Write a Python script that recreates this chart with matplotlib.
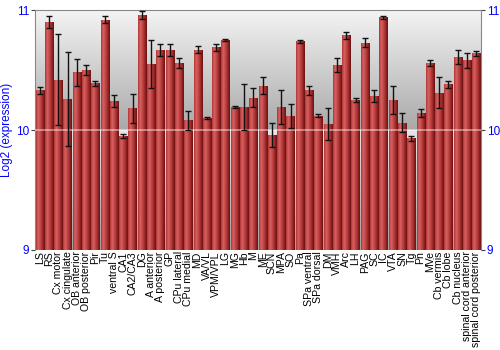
import matplotlib
matplotlib.use("Agg")
import matplotlib.pyplot as plt
import numpy as np
from matplotlib.colors import LinearSegmentedColormap

regions = [
    "LS", "RS", "Cx motor", "Cx cingulate", "OB anterior", "OB posterior", "Pir", "Tu",
    "ventral S", "CA1", "CA2/CA3", "DG", "A anterior", "A posterior", "GP", "CPu lateral",
    "CPu medial", "MD", "VA/VL", "VPM/VPL", "LG", "MG", "Hb", "M", "ME", "SCN", "MPA",
    "SO", "Pa", "SPa ventral", "SPa dorsal", "DM", "VMH", "Arc", "LH", "PAG", "SC", "IC",
    "VTA", "SN", "Tg", "Pn", "MVe", "Cb vermis", "Cb lobe", "Cb nucleus",
    "spinal cord anterior", "spinal cord posterior",
]
log2_expr = [
    10.33, 10.90, 10.42, 10.26, 10.48, 10.50, 10.39, 10.92,
    10.24, 9.95, 10.18, 10.96, 10.55, 10.67, 10.67, 10.56,
    10.08, 10.67, 10.10, 10.69, 10.75, 10.19, 10.19, 10.27, 10.37, 9.96, 10.19,
    10.12, 10.74, 10.33, 10.12, 10.05, 10.54, 10.79, 10.25, 10.73, 10.28, 10.94,
    10.25, 10.06, 9.93, 10.14, 10.56, 10.31, 10.38, 10.61,
    10.58, 10.64,
]
err = [
    0.03, 0.05, 0.38, 0.39, 0.11, 0.04, 0.02, 0.03,
    0.05, 0.02, 0.12, 0.03, 0.20, 0.05, 0.05, 0.04,
    0.08, 0.03, 0.005, 0.03, 0.01, 0.01, 0.19, 0.08, 0.07, 0.10, 0.14,
    0.10, 0.015, 0.04, 0.01, 0.13, 0.06, 0.03, 0.015, 0.035, 0.05, 0.012,
    0.12, 0.08, 0.02, 0.035, 0.025, 0.13, 0.03, 0.06,
    0.065, 0.02,
]
yticks = [9, 10, 11]

plt.rcParams["font.family"] = ["Liberation Sans", "DejaVu Sans"]

fig = plt.figure(figsize=(5, 3.5), dpi=100)
ax = fig.add_axes([0.07, 0.286, 0.892, 0.685])

x = np.arange(len(regions))
ax.set_xlim(-0.5, len(regions) - 0.5)
ax.set_ylim(9, 11)

# background: two vertical grey gradients (11->10 and 10->9)
bg = LinearSegmentedColormap.from_list("bg", ["#f4f4f4", "#a9a9a9"])
grad = np.linspace(0, 1, 256).reshape(-1, 1)
ax.imshow(grad, cmap=bg, aspect="auto", extent=(-0.5, len(regions) - 0.5, 10, 11),
          origin="upper", zorder=0)
bg2 = LinearSegmentedColormap.from_list("bg2", ["#e6e6e6", "#a0a0a0"])
ax.imshow(grad, cmap=bg2, aspect="auto", extent=(-0.5, len(regions) - 0.5, 9, 10),
          origin="upper", zorder=0)

# bars with horizontal cylinder-like shading
bars = ax.bar(x, np.array(log2_expr) - 9, bottom=9, width=0.88,
              color="#b83838", edgecolor="none", zorder=1)
bar_cmap = LinearSegmentedColormap.from_list(
    "bar", ["#b03434", "#d86262", "#c24646", "#9c2a2a", "#6a1010"])
hgrad = np.linspace(0, 1, 64).reshape(1, -1)
for b in bars:
    bx, by = b.get_x(), b.get_y()
    im = ax.imshow(hgrad, cmap=bar_cmap, aspect="auto",
                   extent=(bx, bx + b.get_width(), by, by + b.get_height()), zorder=2)
    im.set_clip_path(b)

ax.axhline(10, color="white", lw=1.2, alpha=0.5, zorder=3)

ax.errorbar(x, log2_expr, yerr=err, fmt="none", ecolor="#111111", elinewidth=1.0,
            capsize=2.2, capthick=1.0, zorder=4)

ax.set_xticks(x)
ax.set_xticklabels(regions, rotation=90, fontsize=7.6, linespacing=0.9)
ax.tick_params(axis="x", length=0, pad=1)

ax.set_yticks(yticks)
ax.set_yticklabels([str(t) for t in yticks], color="blue", fontsize=8.5)
ax.tick_params(axis="y", length=3, color="#444444", pad=1,
               labelleft=True, labelright=True, left=True, right=True)
ax.set_ylabel("Log2 (expression)", color="blue", fontsize=8.5, labelpad=2)

for s in ax.spines.values():
    s.set_color("#888888")
    s.set_linewidth(0.8)
ax.spines["bottom"].set_visible(False)

fig.savefig("out.png", dpi=100)
